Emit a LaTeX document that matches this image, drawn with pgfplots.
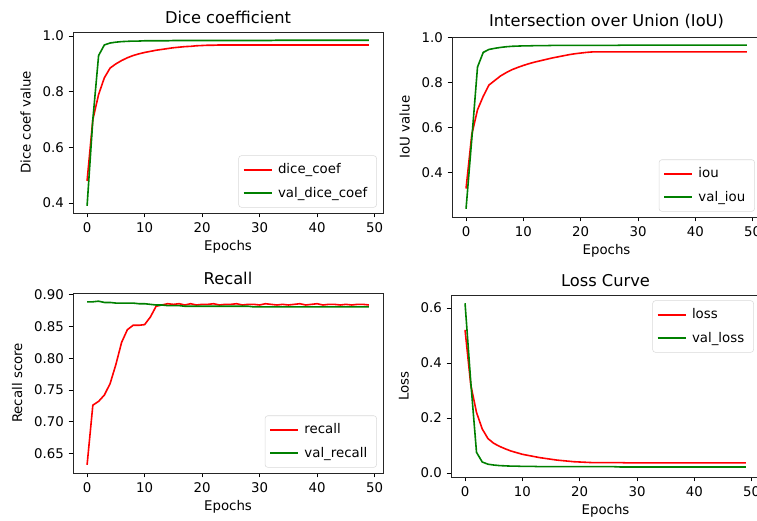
\documentclass[border=0pt]{standalone}
\usepackage{pgfplots}
\pgfplotsset{compat=1.18}
\usepackage{pgfplotstable}
\usepackage{fontspec}
\setmainfont{DejaVu Sans}
\definecolor{mred}{RGB}{255,0,0}
\definecolor{mgreen}{RGB}{0,128,0}
\pgfplotstableread{
epoch dice valdice iou valiou recall valrecall loss valloss
0 0.480 0.390 0.330 0.240 0.632 0.889 0.520 0.617
1 0.700 0.700 0.570 0.550 0.726 0.889 0.320 0.330
2 0.790 0.930 0.680 0.870 0.732 0.890 0.220 0.075
3 0.850 0.968 0.740 0.935 0.742 0.888 0.160 0.040
4 0.885 0.975 0.790 0.948 0.760 0.888 0.125 0.032
5 0.900 0.978 0.810 0.953 0.790 0.887 0.108 0.029
6 0.912 0.980 0.830 0.957 0.825 0.887 0.097 0.027
7 0.922 0.981 0.845 0.960 0.845 0.887 0.088 0.026
8 0.930 0.982 0.858 0.962 0.852 0.887 0.080 0.025
9 0.936 0.982 0.868 0.963 0.852 0.886 0.074 0.025
10 0.941 0.983 0.877 0.964 0.853 0.886 0.068 0.024
11 0.945 0.983 0.885 0.964 0.865 0.885 0.064 0.024
12 0.949 0.983 0.892 0.965 0.882 0.884 0.060 0.024
13 0.952 0.983 0.898 0.965 0.884 0.884 0.056 0.023
14 0.955 0.983 0.904 0.965 0.886 0.883 0.053 0.023
15 0.958 0.984 0.910 0.966 0.885 0.883 0.050 0.023
16 0.960 0.984 0.915 0.966 0.886 0.883 0.047 0.023
17 0.962 0.984 0.920 0.966 0.884 0.882 0.045 0.023
18 0.963 0.984 0.925 0.966 0.886 0.882 0.043 0.023
19 0.965 0.984 0.929 0.966 0.884 0.882 0.041 0.023
20 0.966 0.984 0.932 0.966 0.885 0.882 0.040 0.023
21 0.967 0.984 0.935 0.966 0.885 0.882 0.039 0.023
22 0.967 0.984 0.937 0.966 0.886 0.882 0.038 0.023
23 0.968 0.984 0.937 0.966 0.884 0.882 0.038 0.023
24 0.968 0.984 0.937 0.966 0.885 0.882 0.038 0.023
25 0.968 0.984 0.937 0.966 0.885 0.882 0.038 0.023
26 0.968 0.984 0.937 0.966 0.886 0.882 0.038 0.023
27 0.968 0.984 0.937 0.967 0.884 0.882 0.038 0.022
28 0.968 0.984 0.937 0.967 0.885 0.882 0.037 0.022
29 0.968 0.984 0.937 0.967 0.885 0.881 0.037 0.022
30 0.968 0.984 0.937 0.967 0.884 0.881 0.037 0.022
31 0.968 0.984 0.937 0.967 0.886 0.881 0.037 0.022
32 0.968 0.984 0.937 0.967 0.885 0.881 0.037 0.022
33 0.968 0.985 0.937 0.967 0.884 0.881 0.037 0.022
34 0.968 0.985 0.937 0.967 0.885 0.881 0.037 0.022
35 0.968 0.985 0.937 0.967 0.884 0.881 0.037 0.022
36 0.968 0.985 0.937 0.967 0.885 0.881 0.037 0.022
37 0.968 0.985 0.937 0.967 0.886 0.881 0.037 0.022
38 0.968 0.985 0.937 0.967 0.884 0.881 0.037 0.022
39 0.968 0.985 0.937 0.967 0.885 0.881 0.037 0.022
40 0.968 0.985 0.937 0.967 0.886 0.881 0.037 0.022
41 0.968 0.985 0.937 0.967 0.884 0.881 0.037 0.022
42 0.968 0.985 0.937 0.967 0.885 0.881 0.037 0.022
43 0.968 0.985 0.937 0.967 0.885 0.881 0.037 0.022
44 0.968 0.985 0.937 0.967 0.884 0.881 0.037 0.022
45 0.968 0.985 0.937 0.967 0.885 0.881 0.037 0.022
46 0.968 0.985 0.937 0.967 0.884 0.881 0.037 0.022
47 0.968 0.985 0.937 0.967 0.885 0.881 0.037 0.022
48 0.968 0.985 0.937 0.967 0.885 0.881 0.037 0.022
49 0.968 0.985 0.937 0.967 0.884 0.881 0.037 0.022
}\datatable
\pgfplotsset{
  mplstyle/.style={
    scale only axis,
    xmin=-2.45, xmax=51.45,
    xtick={0,10,20,30,40,50},
    tick align=outside,
    tick pos=left,
    major tick length=3.3pt,
    every tick/.style={black, line width=0.6pt},
    axis line style={black!85, line width=0.6pt},
    tick label style={font=\fontsize{10}{12}\selectfont},
    label style={font=\fontsize{10}{12}\selectfont},
    title style={font=\fontsize{12.2}{14}\selectfont, yshift=-3pt},
    xlabel={Epochs},
    xlabel style={yshift=1pt},
    ylabel style={yshift=2pt},
    /pgf/number format/assume math mode=true,
    legend style={font=\fontsize{10}{12}\selectfont, draw=black!15, rounded corners=2pt, fill=white, inner xsep=3pt, inner ysep=4pt, row sep=4.5pt, nodes={inner xsep=4pt}},
    legend image code/.code={\draw[##1, line width=1.5pt] (0pt,0pt) -- (21pt,0pt);},
    legend cell align=left,
    every axis plot/.append style={line width=1.2pt},
  },
  onedec/.style={yticklabel style={/pgf/number format/.cd, fixed, fixed zerofill, precision=1}},
  twodec/.style={yticklabel style={/pgf/number format/.cd, fixed, fixed zerofill, precision=2}},
}
\begin{document}
\begin{tikzpicture}
\useasboundingbox (0,0) rectangle (567.75pt,390.75pt);
\clip (0,0) rectangle (567.75pt,390.75pt);
% Dice
\begin{axis}[mplstyle, onedec, at={(54.75pt,231pt)}, anchor=south west,
  width=232.5pt, height=135.75pt,
  ymin=0.3645, ymax=1.0145, ytick={0.4,0.6,0.8,1.0},
  title={Dice coefficient}, ylabel={Dice coef value},
  legend style={at={(0.98,0.03)}, anchor=south east}]
\addplot[mred] table[x=epoch, y=dice] {\datatable};
\addlegendentry{dice\_coef}
\addplot[mgreen] table[x=epoch, y=valdice] {\datatable};
\addlegendentry{val\_dice\_coef}
\end{axis}
% IoU
\begin{axis}[mplstyle, onedec, at={(339pt,228pt)}, anchor=south west,
  width=231.75pt, height=135pt,
  ymin=0.2036, ymax=1.0034, ytick={0.4,0.6,0.8,1.0},
  title={Intersection over Union (IoU)}, ylabel={IoU value},
  legend style={at={(0.98,0.03)}, anchor=south east}]
\addplot[mred] table[x=epoch, y=iou] {\datatable};
\addlegendentry{iou}
\addplot[mgreen] table[x=epoch, y=valiou] {\datatable};
\addlegendentry{val\_iou}
\end{axis}
% Recall
\begin{axis}[mplstyle, twodec, at={(54.75pt,36pt)}, anchor=south west,
  width=232.5pt, height=135pt,
  ymin=0.6191, ymax=0.9029, ytick={0.65,0.70,0.75,0.80,0.85,0.90},
  title={Recall}, ylabel={Recall score},
  legend style={at={(0.98,0.03)}, anchor=south east}]
\addplot[mred] table[x=epoch, y=recall] {\datatable};
\addlegendentry{recall}
\addplot[mgreen] table[x=epoch, y=valrecall] {\datatable};
\addlegendentry{val\_recall}
\end{axis}
% Loss
\begin{axis}[mplstyle, onedec, at={(338.25pt,33pt)}, anchor=south west,
  width=231.75pt, height=136.5pt,
  ymin=-0.0145, ymax=0.647, ytick={0.0,0.2,0.4,0.6},
  title={Loss Curve}, ylabel={Loss},
  legend style={at={(0.98,0.97)}, anchor=north east}]
\addplot[mred] table[x=epoch, y=loss] {\datatable};
\addlegendentry{loss}
\addplot[mgreen] table[x=epoch, y=valloss] {\datatable};
\addlegendentry{val\_loss}
\end{axis}
\end{tikzpicture}
\end{document}
